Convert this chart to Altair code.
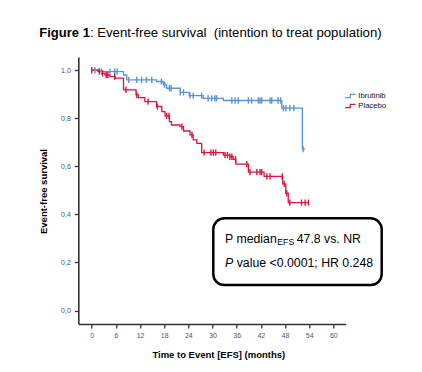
import altair as alt
import pandas as pd

FONT = "Liberation Sans"

# Kaplan-Meier step data (time in months, survival after the step)
ibr_time = [0, 1.6, 7.9, 8.7, 16.1, 17.8, 18.6, 22.0, 24.2, 27.7, 32.7, 47.2, 52.3, 53.0]
ibr_surv = [1.0, 0.994, 0.980, 0.960, 0.953, 0.939, 0.925, 0.908, 0.894, 0.883, 0.874, 0.842, 0.672, 0.672]
ibr_cens = [0.8, 2.4, 4.5, 5.7, 6.3, 9.2, 11.2, 12.4, 13.6, 14.9, 17.3, 18.1, 19.3, 19.7, 22.0, 22.8,
            24.4, 25.2, 27.3, 28.9, 29.8, 30.6, 31.0, 34.8, 35.6, 36.4, 38.9, 39.7, 41.4, 41.8, 42.2,
            44.3, 44.7, 46.3, 46.9, 47.6, 48.2, 49.2, 50.2, 52.5]

pla_time = [0, 1.6, 2.5, 3.3, 4.5, 5.8, 7.9, 11.0, 11.6, 13.2, 16.1, 17.4, 18.2, 19.3, 19.8, 21.9,
            22.8, 24.4, 25.2, 26.1, 27.3, 32.7, 34.3, 35.1, 35.8, 38.9, 42.8, 47.4, 48.2, 48.8, 53.8]
pla_surv = [1.0, 0.995, 0.987, 0.980, 0.973, 0.967, 0.918, 0.897, 0.886, 0.869, 0.849, 0.828, 0.810,
            0.786, 0.772, 0.765, 0.747, 0.731, 0.710, 0.696, 0.657, 0.647, 0.640, 0.629, 0.609,
            0.576, 0.558, 0.527, 0.488, 0.449, 0.449]
pla_cens = [0.0, 1.9, 2.7, 3.6, 4.0, 5.7, 8.5, 11.2, 14.0, 16.3, 18.6, 19.2, 22.4, 24.9, 27.9, 29.6,
            30.2, 30.8, 33.1, 33.7, 34.3, 34.8, 35.7, 38.5, 39.3, 41.0, 41.8, 42.2, 43.5, 44.3,
            47.3, 47.8, 48.4, 49.2, 52.1, 53.0, 53.8]

groups = ["Ibrutinib", "Placebo"]
colors = ["#5b93d9", "#d9163c"]
x_ticks = [0, 6, 12, 18, 24, 30, 36, 42, 48, 54, 60]
y_ticks = [0.0, 0.2, 0.4, 0.6, 0.8, 1.0]


def surv_at(times, survs, t):
    s = survs[0]
    for ti, si in zip(times, survs):
        if ti <= t:
            s = si
    return s


rows = []
for g, ts, ss in [("Ibrutinib", ibr_time, ibr_surv), ("Placebo", pla_time, pla_surv)]:
    for t, s in zip(ts, ss):
        rows.append({"group": g, "time": t, "surv": s})
steps = pd.DataFrame(rows)

crows = []
for g, ts, ss, cs in [("Ibrutinib", ibr_time, ibr_surv, ibr_cens), ("Placebo", pla_time, pla_surv, pla_cens)]:
    for c in cs:
        crows.append({"group": g, "time": c, "surv": surv_at(ts, ss, c)})
cens = pd.DataFrame(crows)

xscale = alt.Scale(domain=[-3.33, 63.07], nice=False, zero=False)
yscale = alt.Scale(domain=[-0.056, 1.055], nice=False, zero=False)
cscale = alt.Scale(domain=groups, range=colors)

xaxis = alt.Axis(values=x_ticks, title="Time to Event [EFS] (months)", titleX=140, titleY=30,
                 titleBaseline="middle", labelPadding=3, labelOverlap=False, labelFlush=False)
yaxis = alt.Axis(values=y_ticks, title="Event-free survival", titleX=-35, titleY=134,
                 titleBaseline="middle", titleAngle=270, labelOverlap=False, labelFlush=False,
                 labelExpr="replace(format(datum.value, '.1f'), '.', ',')", labelPadding=4)

lines = alt.Chart(steps).mark_line(interpolate="step-after", strokeWidth=1.3).encode(
    x=alt.X("time:Q", scale=xscale, axis=xaxis),
    y=alt.Y("surv:Q", scale=yscale, axis=yaxis),
    color=alt.Color("group:N", scale=cscale, legend=alt.Legend(
        title=None, orient="none", legendX=266, legendY=33, padding=0, rowPadding=0,
        symbolType="M-1,0.3H0V-0.3H1", symbolSize=110, symbolStrokeWidth=1.2,
        symbolFillColor="transparent", labelOffset=2, labelFontSize=7.7,
        labelColor="#111", labelFont=FONT)),
)

ticks = alt.Chart(cens).mark_point(shape="M0,-1V1", size=40, filled=False, strokeWidth=1.4,
                                   opacity=1).encode(
    x=alt.X("time:Q", scale=xscale, axis=xaxis),
    y=alt.Y("surv:Q", scale=yscale, axis=yaxis),
    color=alt.Color("group:N", scale=cscale, legend=None),
)

box = alt.Chart(pd.DataFrame({"a": [0]})).mark_rect(
    fill="white", stroke="black", strokeWidth=2.5, cornerRadius=11).encode(
    x=alt.value(135), x2=alt.value(303.4), y=alt.value(161.3), y2=alt.value(228))


def txt(s, x, y, size, weight="normal", style="normal", align="left"):
    return alt.Chart(pd.DataFrame({"t": [s]})).mark_text(
        align=align, baseline="alphabetic", fontSize=size, fontWeight=weight,
        fontStyle=style, font=FONT, color="black").encode(
        x=alt.value(x), y=alt.value(y), text="t:N")


texts = [
    txt("Figure 1", -39, -20.3, 13, weight="bold"),
    txt(":\u00a0Event-free\u00a0survival\u00a0\u00a0(intention\u00a0to\u00a0treat\u00a0population)", 11.6, -20.3, 13.2),
    txt("P median", 146.7, 185.7, 12.3),
    txt("EFS", 199, 187.5, 8.7),
    txt("47.8 vs. NR", 218.4, 185.7, 12.3),
    txt("P", 146.7, 209.7, 12.3, style="italic"),
    txt("value <0.0001; HR 0.248", 158.4, 209.7, 12.3),
]

chart = alt.layer(lines, ticks, box, *texts).properties(
    width=267.4, height=267,
    autosize=alt.AutoSizeParams(type="none"),
    padding={"left": 70.3, "top": 49, "right": 68.3, "bottom": 40},
).configure_view(stroke=None).configure_axis(
    grid=False, domainColor="#333", domainWidth=1.6, tickColor="#333", tickWidth=1.3,
    tickSize=4, labelFontSize=7, labelColor="#555", labelFont=FONT, labelOverlap=False,
    titleFont=FONT, titleFontSize=9.5, titleFontWeight="bold", titleColor="black",
).resolve_scale(color="shared")

chart.save("out.html", embed_options={"renderer": "svg", "actions": False})
